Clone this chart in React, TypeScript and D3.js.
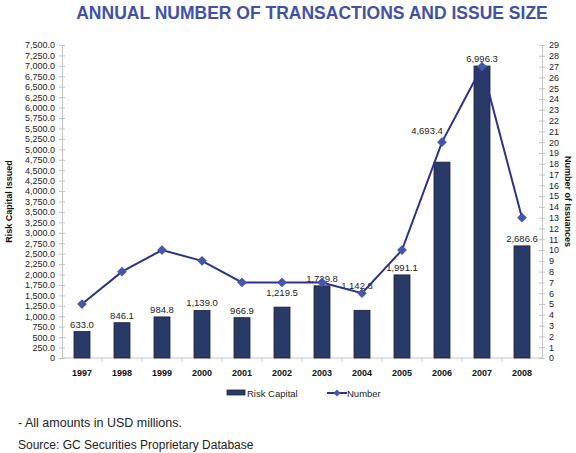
import { useRef, useEffect } from "react";
import * as d3 from "d3";

// Annual risk capital issued (USD m) and number of issuances
const years = ["1997", "1998", "1999", "2000", "2001", "2002", "2003", "2004", "2005", "2006", "2007", "2008"];
const riskCapital = [633.0, 846.1, 984.8, 1139.0, 966.9, 1219.5, 1729.8, 1142.8, 1991.1, 4693.4, 6996.3, 2686.6];
const issuances = [5, 8, 10, 9, 7, 7, 7, 6, 10, 20, 27, 13];
const leftTicks = d3.range(0, 7501, 250);
const rightTicks = d3.range(0, 30, 1);

const W = 576;
const H = 453;

export default function App() {
  const svgRef = useRef<SVGSVGElement>(null);

  useEffect(() => {
    if (!svgRef.current) return;
    const svg = d3.select(svgRef.current);
    svg.selectAll("*").remove();

    const font = "Liberation Sans, Arial, sans-serif";
    const axisGray = "#c4c4c4";
    const margin = { top: 45, right: 34, bottom: 95, left: 62 };
    const iW = W - margin.left - margin.right;
    const iH = H - margin.top - margin.bottom;

    const x = d3.scaleBand<string>().domain(years).range([0, iW]).paddingInner(0.6).paddingOuter(0.3);
    const xCat = d3.scaleBand<string>().domain(years).range([0, iW]);
    const yL = d3.scaleLinear().domain([0, 7500]).range([iH, 0]);
    const yR = d3.scaleLinear().domain([0, 29]).range([iH, 0]);

    // Title
    svg.append("text")
      .attr("x", 312)
      .attr("y", 19)
      .attr("text-anchor", "middle")
      .attr("font-family", font)
      .attr("font-size", "17.5px")
      .attr("font-weight", "700")
      .attr("fill", "#4152a6")
      .text("ANNUAL NUMBER OF TRANSACTIONS AND ISSUE SIZE");

    const g = svg.append("g").attr("transform", `translate(${margin.left},${margin.top})`);

    // Left axis
    const left = g.append("g").call(
      d3.axisLeft(yL).tickValues(leftTicks).tickSize(3).tickPadding(4)
        .tickFormat((d) => (d === 0 ? "0" : d3.format(",.1f")(d as number)))
    );
    left.select(".domain").attr("stroke", axisGray);
    left.selectAll(".tick line").attr("stroke", axisGray).attr("x2", -3).attr("x1", 3);
    left.selectAll("text").attr("font-family", font).attr("font-size", "9px").attr("fill", "#222");

    // Right axis
    const right = g.append("g").attr("transform", `translate(${iW},0)`).call(
      d3.axisRight(yR).tickValues(rightTicks).tickSize(3).tickPadding(4)
    );
    right.select(".domain").attr("stroke", axisGray);
    right.selectAll(".tick line").attr("stroke", axisGray).attr("x1", -3).attr("x2", 3);
    right.selectAll("text").attr("font-family", font).attr("font-size", "9px").attr("fill", "#222");

    // X axis
    g.append("line")
      .attr("x1", 0).attr("x2", iW)
      .attr("y1", iH).attr("y2", iH)
      .attr("stroke", axisGray);
    g.selectAll(".xtick")
      .data(years.slice(1))
      .join("line")
      .attr("x1", (d) => xCat(d)!)
      .attr("x2", (d) => xCat(d)!)
      .attr("y1", iH)
      .attr("y2", iH + 4)
      .attr("stroke", axisGray);
    g.selectAll(".xlab")
      .data(years)
      .join("text")
      .attr("x", (d) => xCat(d)! + xCat.bandwidth() / 2)
      .attr("y", iH + 18)
      .attr("text-anchor", "middle")
      .attr("font-family", font)
      .attr("font-size", "9px")
      .attr("font-weight", "700")
      .attr("fill", "#111")
      .text((d) => d);

    // Axis titles
    g.append("text")
      .attr("transform", "rotate(-90)")
      .attr("x", -iH / 2)
      .attr("y", -margin.left + 12)
      .attr("text-anchor", "middle")
      .attr("font-family", font)
      .attr("font-size", "9px")
      .attr("font-weight", "700")
      .attr("fill", "#111")
      .text("Risk Capital Issued");
    g.append("text")
      .attr("transform", `translate(${iW + 23},${iH / 2}) rotate(90)`)
      .attr("text-anchor", "middle")
      .attr("font-family", font)
      .attr("font-size", "9px")
      .attr("font-weight", "700")
      .attr("fill", "#111")
      .text("Number of Issuances");

    // Bars
    const bars = years.map((y, i) => ({ year: y, v: riskCapital[i] }));
    g.selectAll(".bar")
      .data(bars)
      .join("rect")
      .attr("x", (d) => x(d.year)!)
      .attr("y", (d) => yL(d.v))
      .attr("width", x.bandwidth())
      .attr("height", (d) => iH - yL(d.v))
      .attr("fill", "#2a3a66")
      .attr("stroke", "#1b2444")
      .attr("stroke-width", 0.8);

    // some labels were nudged off the line in the original
    const nudge: Record<string, [number, number]> = {
      "2002": [0, -7],
      "2004": [-5, -17],
      "2006": [-15, -24],
    };
    g.selectAll(".vlab")
      .data(bars)
      .join("text")
      .attr("x", (d) => x(d.year)! + x.bandwidth() / 2 + (nudge[d.year]?.[0] ?? 0))
      .attr("y", (d) => yL(d.v) - 4 + (nudge[d.year]?.[1] ?? 0))
      .attr("text-anchor", "middle")
      .attr("font-family", font)
      .attr("font-size", "9.5px")
      .attr("fill", "#222")
      .text((d) => d3.format(",.1f")(d.v));

    // Line
    const pts = years.map((y, i) => ({ year: y, n: issuances[i] }));
    const line = d3.line<{ year: string; n: number }>()
      .x((d) => xCat(d.year)! + xCat.bandwidth() / 2)
      .y((d) => yR(d.n));
    g.append("path")
      .datum(pts)
      .attr("fill", "none")
      .attr("stroke", "#2d3286")
      .attr("stroke-width", 2)
      .attr("d", line);
    const diamond = d3.symbol().type(d3.symbolDiamond2).size(60);
    g.selectAll(".pt")
      .data(pts)
      .join("path")
      .attr("transform", (d) => `translate(${xCat(d.year)! + xCat.bandwidth() / 2},${yR(d.n)})`)
      .attr("d", diamond)
      .attr("fill", "#4656a8");

    // Legend
    const lg = svg.append("g").attr("transform", "translate(227,393)");
    lg.append("rect").attr("x", 0).attr("y", -3).attr("width", 18).attr("height", 5)
      .attr("fill", "#2a3a66").attr("stroke", "#1b2444").attr("stroke-width", 0.8);
    lg.append("text").attr("x", 20).attr("y", 3.5)
      .attr("font-family", font).attr("font-size", "9.5px").attr("fill", "#222").text("Risk Capital");
    lg.append("line").attr("x1", 100).attr("x2", 120).attr("y1", 0).attr("y2", 0)
      .attr("stroke", "#2d3286").attr("stroke-width", 2);
    lg.append("path").attr("transform", "translate(110,0)")
      .attr("d", d3.symbol().type(d3.symbolDiamond2).size(30)()).attr("fill", "#4656a8");
    lg.append("text").attr("x", 120).attr("y", 3.5)
      .attr("font-family", font).attr("font-size", "9.5px").attr("fill", "#222").text("Number");

    // Footnotes
    svg.append("text").attr("x", 18).attr("y", 427)
      .attr("font-family", font).attr("font-size", "12.5px").attr("fill", "#222")
      .text("- All amounts in USD millions.");
    svg.append("text").attr("x", 18).attr("y", 449)
      .attr("font-family", font).attr("font-size", "12px").attr("fill", "#222")
      .text("Source: GC Securities Proprietary Database");
  }, []);

  return (
    <div style={{ position: "absolute", left: 0, top: 0, width: W, height: H, background: "#fff" }}>
      <svg ref={svgRef} width={W} height={H} style={{ display: "block" }} />
    </div>
  );
}
